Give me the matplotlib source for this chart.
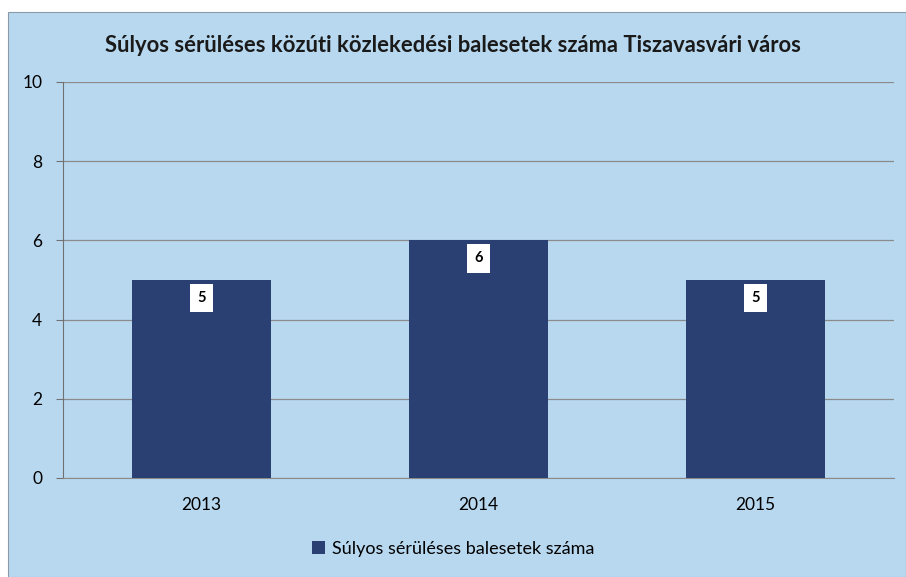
import matplotlib
matplotlib.use("Agg")
import matplotlib.pyplot as plt
from matplotlib.patches import Rectangle

years = ["2013", "2014", "2015"]
values = [5, 6, 5]
series_name = "Súlyos sérüléses balesetek száma"
title = "Súlyos sérüléses közúti közlekedési balesetek száma Tiszavasvári város"
yticks = [0, 2, 4, 6, 8, 10]

W, H = 906, 577
fig = plt.figure(figsize=(W / 100, H / 100), dpi=100, facecolor="white")
plt.rcParams['font.family'] = ['Lato', 'DejaVu Sans']

bg = "#b8d8ef"
fig.patches.append(Rectangle((8 / W, 0), 1 - 8 / W, 1 - 12 / H, transform=fig.transFigure,
                             facecolor=bg, edgecolor="#8a9aa8", linewidth=0.8, zorder=-10))

ax = fig.add_axes([63 / W, (H - 478) / H, (894 - 63) / W, (478 - 82) / H])
ax.set_zorder(2)
ax.patch.set_alpha(0)

x = range(len(years))
bars = ax.bar(x, values, width=0.5, color="#2a3f72", zorder=3)
ax.set_xlim(-0.5, len(years) - 0.5)
ax.set_ylim(0, 10)
ax.set_yticks(yticks)
ax.set_yticklabels([str(t) for t in yticks], fontsize=12.5)
ax.set_xticks(list(x))
ax.set_xticklabels(years, fontsize=12.5)
ax.tick_params(axis='x', length=0, pad=14)
ax.tick_params(axis='y', length=5, color="#707070", pad=10)
ax.grid(axis='y', color="#8a8a8a", linewidth=0.9, zorder=1)
for s in ["top", "right"]:
    ax.spines[s].set_visible(False)
ax.spines["left"].set_color("#707070")
ax.spines["bottom"].set_color("#8a8a8a")

for xi, v in zip(x, values):
    ax.text(xi, v - 0.45, str(v), ha="center", va="center", fontsize=10.5, fontweight="bold",
            color="black", zorder=4,
            bbox=dict(boxstyle="square,pad=0.5", facecolor="white", edgecolor="none"))

fig.text(0.5, 1 - 45 / H, title, ha="center", va="center", fontsize=15.8, fontweight="bold",
         color="#1a1a1a")

leg = fig.legend([bars], [series_name], loc="center", bbox_to_anchor=(0.5, 1 - 549 / H),
                 frameon=False, fontsize=13, handlelength=0.7, handleheight=0.7,
                 handletextpad=0.4)

fig.savefig("out.png", dpi=100, facecolor="white")
